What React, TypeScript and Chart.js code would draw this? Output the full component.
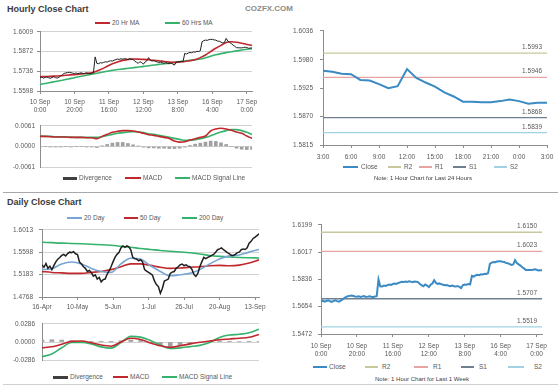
import React, { useEffect, useRef } from 'react';
import { Chart, registerables } from 'chart.js';

Chart.register(...registerables);

const FONT = "'Liberation Sans', Arial, Helvetica, sans-serif";
const TXT = '#595959';
const AXIS = '#8c8c8c';
const GRID = '#d2d2d2';
const RED = '#c0282d';
const GREEN = '#35b36c';
const MA_BLUE = '#79a5d3';
const CLOSE_BLUE = '#3a8ac4';
const BAR_GRAY = '#a0a0a0';
const DARK = '#1f1f1f';

// ---------- Hourly (last week, 1 hour bars) ----------
const hourTickLabels = [
  ['10 Sep', '0:00'], ['10 Sep', '20:00'], ['11 Sep', '16:00'], ['12 Sep', '12:00'],
  ['13 Sep', '8:00'], ['16 Sep', '4:00'], ['17 Sep', '0:00'],
];
const hourTickStep = 20;
const hourlyClose = [
  1.5690, 1.5694, 1.5688, 1.5692, 1.5696, 1.5690, 1.5686, 1.5693, 1.5697, 1.5691,
  1.5688, 1.5694, 1.5702, 1.5712, 1.5720, 1.5724, 1.5726, 1.5728, 1.5725, 1.5722,
  1.5720, 1.5723, 1.5719, 1.5722, 1.5725, 1.5719, 1.5721, 1.5724, 1.5720, 1.5717,
  1.5722, 1.5724, 1.5835, 1.5790, 1.5788, 1.5795, 1.5792, 1.5798, 1.5801, 1.5799,
  1.5805, 1.5808, 1.5806, 1.5812, 1.5816, 1.5820, 1.5818, 1.5822, 1.5819, 1.5823,
  1.5821, 1.5817, 1.5822, 1.5820, 1.5818, 1.5805, 1.5798, 1.5790, 1.5802, 1.5795,
  1.5785, 1.5800, 1.5808, 1.5830, 1.5812, 1.5806, 1.5809, 1.5803, 1.5800, 1.5797,
  1.5799, 1.5794, 1.5791, 1.5795, 1.5790, 1.5788, 1.5792, 1.5786, 1.5778, 1.5798,
  1.5802, 1.5800, 1.5805, 1.5803, 1.5860, 1.5855, 1.5862, 1.5866, 1.5864, 1.5870,
  1.5868, 1.5874, 1.5872, 1.5878, 1.5940, 1.5948, 1.5952, 1.5950, 1.5955, 1.5957,
  1.5957, 1.5953, 1.5952, 1.5945, 1.5944, 1.5938, 1.5932, 1.5935, 1.5964, 1.5945,
  1.5936, 1.5928, 1.5917, 1.5909, 1.5899, 1.5899, 1.5898, 1.5898, 1.5900, 1.5903,
  1.5900, 1.5895, 1.5897, 1.5897,
];
const hourMaStep = 3;
const ma20Hr = [
  1.5698, 1.5699, 1.5700, 1.5702, 1.5704, 1.5707, 1.5710, 1.5713, 1.5717, 1.5720,
  1.5725, 1.5737, 1.5752, 1.5770, 1.5787, 1.5800, 1.5811, 1.5817, 1.5821, 1.5820,
  1.5818, 1.5815, 1.5812, 1.5808, 1.5803, 1.5799, 1.5797, 1.5800, 1.5803, 1.5808,
  1.5816, 1.5830, 1.5848, 1.5872, 1.5895, 1.5915, 1.5935, 1.5940, 1.5937, 1.5930,
  1.5922, 1.5915,
];
const ma60Hr = [
  1.5643, 1.5650, 1.5657, 1.5664, 1.5671, 1.5678, 1.5686, 1.5693, 1.5700, 1.5707,
  1.5714, 1.5721, 1.5728, 1.5735, 1.5742, 1.5747, 1.5751, 1.5756, 1.5760, 1.5765,
  1.5769, 1.5774, 1.5779, 1.5783, 1.5788, 1.5792, 1.5797, 1.5802, 1.5806, 1.5811,
  1.5816, 1.5820, 1.5829, 1.5840, 1.5850, 1.5858, 1.5865, 1.5871, 1.5877, 1.5883,
  1.5888, 1.5893,
];
const macdHourly = [
  0.0030, 0.0030, 0.0029, 0.0028, 0.0028, 0.0028, 0.0027, 0.0027, 0.0027, 0.0026,
  0.0026, 0.0023, 0.0030, 0.0036, 0.0042, 0.0045, 0.0047, 0.0047, 0.0046, 0.0043,
  0.0039, 0.0035, 0.0033, 0.0030, 0.0027, 0.0024, 0.0016, 0.0013, 0.0014, 0.0019,
  0.0023, 0.0027, 0.0031, 0.0046, 0.0052, 0.0054, 0.0052, 0.0048, 0.0043, 0.0039,
  0.0031, 0.0024,
];
const signalHourly = [
  0.0031, 0.0030, 0.0030, 0.0029, 0.0029, 0.0028, 0.0028, 0.0027, 0.0027, 0.0027,
  0.0027, 0.0027, 0.0029, 0.0033, 0.0036, 0.0039, 0.0041, 0.0043, 0.0044, 0.0043,
  0.0041, 0.0038, 0.0036, 0.0033, 0.0030, 0.0027, 0.0024, 0.0021, 0.0018, 0.0018,
  0.0020, 0.0023, 0.0027, 0.0032, 0.0038, 0.0043, 0.0047, 0.0050, 0.0050, 0.0047,
  0.0042, 0.0036,
];
const divergenceHourly = [
  -0.0001, 0.0000, -0.0001, -0.0001, -0.0001, 0.0000, -0.0001, 0.0000, 0.0000, -0.0001,
  -0.0001, -0.0003, 0.0002, 0.0006, 0.0010, 0.0012, 0.0012, 0.0009, 0.0005, 0.0001,
  -0.0002, -0.0004, -0.0004, -0.0005, -0.0005, -0.0006, -0.0006, -0.0005, -0.0002, 0.0003,
  0.0007, 0.0010, 0.0013, 0.0016, 0.0015, 0.0011, 0.0006, 0.0000, -0.0005, -0.0008,
  -0.0009, -0.0009,
];
const hourlyYTicks = [1.5598, 1.5736, 1.5872, 1.6009];
const macdHourlyTicks = [-0.0061, 0, 0.0061];
const weekYTicks = [1.5472, 1.5654, 1.5836, 1.6017, 1.6199];
const weekLevels = [1.6150, 1.6023, 1.5707, 1.5519];

// ---------- Last 24 hours ----------
const dayHourLabels = ['3:00', '6:00', '9:00', '12:00', '15:00', '18:00', '21:00', '0:00', '3:00'];
const dayHourStep = 3;
const close24h = [
  1.5959, 1.5957, 1.5953, 1.5952, 1.5941, 1.5940, 1.5933, 1.5925, 1.5929, 1.5962,
  1.5945, 1.5936, 1.5928, 1.5917, 1.5909, 1.5899, 1.5899, 1.5898, 1.5898, 1.5900,
  1.5903, 1.5900, 1.5895, 1.5897, 1.5897,
];
const day24YTicks = [1.5815, 1.5870, 1.5925, 1.5980, 1.6036];
const day24Levels = [1.5993, 1.5946, 1.5868, 1.5839];
const levelNames = ['R2', 'R1', 'S1', 'S2'];
const levelColors = ['#c8c89c', '#e8a3a3', '#6f8093', '#9fd2e4'];

// ---------- Daily ----------
const dailyTickLabels = ['16-Apr', '10-May', '5-Jun', '1-Jul', '26-Jul', '20-Aug', '13-Sep'];
const dailyTickStep = 18;
const dailyClose = [
  1.5364, 1.5320, 1.5390, 1.5300, 1.5340, 1.5276,
  1.5350, 1.5420, 1.5470, 1.5500, 1.5540,
  1.5560, 1.5530, 1.5574, 1.5600, 1.5592, 1.5610, 1.5570, 1.5557,
  1.5417, 1.5380, 1.5329, 1.5300, 1.5241, 1.5260, 1.5224,
  1.5154, 1.5180, 1.5101, 1.5130, 1.5048, 1.5090, 1.5101,
  1.5189, 1.5250, 1.5329, 1.5420, 1.5504, 1.5560, 1.5592,
  1.5680, 1.5715, 1.5690, 1.5715, 1.5700, 1.5645,
  1.5504, 1.5480, 1.5469, 1.5440, 1.5460, 1.5417,
  1.5276, 1.5250, 1.5224, 1.5200, 1.5171, 1.5066, 1.5000,
  1.4961, 1.4838, 1.4926, 1.5066, 1.5080,
  1.5101, 1.5206, 1.5230, 1.5241, 1.5300, 1.5329,
  1.5364, 1.5380, 1.5350, 1.5364, 1.5340, 1.5329, 1.5280,
  1.5189, 1.5150, 1.5206, 1.5329, 1.5420,
  1.5504, 1.5480, 1.5504, 1.5520, 1.5540, 1.5557, 1.5600,
  1.5645, 1.5660, 1.5680, 1.5645, 1.5620,
  1.5592, 1.5570, 1.5540, 1.5539, 1.5560,
  1.5592, 1.5600, 1.5645, 1.5660, 1.5650, 1.5680,
  1.5767, 1.5800, 1.5855, 1.5880, 1.5908, 1.5943,
];
const dayMaStep = 5;
const ma20Day = [
  1.5276, 1.5294, 1.5382, 1.5417, 1.5382, 1.5299, 1.5241, 1.5224, 1.5382, 1.5487,
  1.5469, 1.5347, 1.5241, 1.5162, 1.5180, 1.5206, 1.5276, 1.5382, 1.5475, 1.5531,
  1.5548, 1.5601, 1.5650,
];
const ma50Day = [
  1.5241, 1.5224, 1.5215, 1.5206, 1.5206, 1.5224, 1.5241, 1.5276, 1.5329, 1.5382,
  1.5382, 1.5355, 1.5320, 1.5299, 1.5306, 1.5320, 1.5329, 1.5347, 1.5355, 1.5347,
  1.5359, 1.5399, 1.5457,
];
const ma200Day = [
  1.5785, 1.5776, 1.5767, 1.5762, 1.5755, 1.5746, 1.5738, 1.5727, 1.5710, 1.5692,
  1.5667, 1.5650, 1.5632, 1.5618, 1.5604, 1.5588, 1.5566, 1.5539, 1.5522, 1.5510,
  1.5501, 1.5496, 1.5492,
];
const macdDaily = [
  -0.0090, -0.0075, -0.0035, 0.0010, 0.0015, -0.0012, -0.0048, -0.0066, 0.0000, 0.0060,
  0.0040, -0.0015, -0.0060, -0.0085, -0.0060, -0.0030, -0.0005, 0.0015, 0.0035, 0.0048,
  0.0060, 0.0075, 0.0120,
];
const signalDaily = [
  -0.0231, -0.0190, -0.0090, -0.0008, -0.0008, -0.0030, -0.0077, -0.0097, -0.0010, 0.0089,
  0.0077, 0.0024, -0.0049, -0.0101, -0.0093, -0.0073, -0.0053, -0.0008, 0.0073, 0.0110,
  0.0122, 0.0146, 0.0203,
];
const divergenceDaily = [
  0.0030, 0.0035, 0.0030, 0.0020, 0.0012, 0.0005, 0.0005, 0.0003, 0.0020, 0.0030,
  0.0025, -0.0010, -0.0040, -0.0070, -0.0060, -0.0030, -0.0010, 0.0005, 0.0015, 0.0012,
  0.0008, 0.0005, 0.0005,
];
const dailyYTicks = [1.4768, 1.5183, 1.5598, 1.6013];
const macdDailyTicks = [-0.0286, 0, 0.0286];

// ---------- helpers ----------
const tickFont = { family: FONT, size: 6.5 };

function yAxis(ticks: number[], width: number, tickLen: number, pad: number, grid: boolean) {
  return {
    type: 'linear',
    position: 'left',
    min: ticks[0],
    max: ticks[ticks.length - 1],
    afterBuildTicks: (s: any) => { s.ticks = ticks.map((v) => ({ value: v })); },
    afterFit: (s: any) => { s.width = width; },
    ticks: { color: TXT, font: tickFont, padding: pad, callback: (v: any) => Number(v).toFixed(4) },
    grid: {
      display: true, drawOnChartArea: grid, color: GRID, lineWidth: 1,
      drawTicks: tickLen > 0, tickLength: tickLen, tickColor: AXIS,
    },
    border: { display: true, color: AXIS, width: 1 },
  };
}

function xAxis(max: number, step: number, labels: any[], height: number, pad: number) {
  return {
    type: 'linear',
    position: 'bottom',
    min: 0,
    max,
    offset: false,
    afterBuildTicks: (s: any) => { s.ticks = labels.map((_: any, k: number) => ({ value: k * step })); },
    afterFit: (s: any) => { s.height = height; },
    ticks: {
      color: TXT, font: { ...tickFont, lineHeight: 1.25 }, padding: pad, maxRotation: 0, autoSkip: false,
      callback: (_v: any, idx: number) => labels[idx],
    },
    grid: { display: true, offset: false, drawOnChartArea: false, drawTicks: true, tickLength: 3, tickColor: AXIS },
    border: { display: true, color: AXIS, width: 1 },
  };
}

// x axis kept in the layout (so it is placed with the chart area) but drawn with nothing
function xBare(max: number) {
  return {
    type: 'linear',
    position: 'bottom',
    min: 0,
    max,
    offset: false,
    display: true,
    afterFit: (s: any) => { s.height = 0; },
    ticks: { display: false },
    grid: { display: false, offset: false, drawTicks: false },
    border: { display: false },
  };
}

function lineDs(values: number[], step: number, color: string, width: number, smooth = false) {
  return {
    type: 'line',
    data: values.map((v, i) => ({ x: i * step, y: v })),
    borderColor: color,
    backgroundColor: color,
    borderWidth: width,
    pointRadius: 0,
    fill: false,
    tension: 0,
    cubicInterpolationMode: smooth ? 'monotone' : 'default',
  };
}

function levelDs(value: number, max: number, color: string) {
  return {
    type: 'line',
    data: [{ x: 0, y: value }, { x: max, y: value }],
    borderColor: color,
    borderWidth: 1.3,
    pointRadius: 0,
    fill: false,
    levelValue: value,
  };
}

function barDs(values: number[], step: number, color: string, thickness: number) {
  return {
    type: 'bar',
    data: values.map((v, i) => ({ x: i * step, y: v })),
    backgroundColor: color,
    borderWidth: 0,
    barThickness: thickness,
  };
}

const levelLabelPlugin = {
  id: 'levelLabels',
  afterDatasetsDraw(chart: any) {
    const ctx = chart.ctx;
    const ys = chart.scales.y;
    const area = chart.chartArea;
    ctx.save();
    ctx.font = `6.5px ${FONT}`;
    ctx.fillStyle = TXT;
    ctx.textAlign = 'right';
    ctx.textBaseline = 'bottom';
    chart.data.datasets.forEach((ds: any) => {
      if (ds.levelValue != null) {
        const py = ys.getPixelForValue(ds.levelValue);
        ctx.fillText(ds.levelValue.toFixed(4), area.right - 5, py - 2.5);
      }
    });
    ctx.restore();
  },
};

function makeConfig(datasets: any[], x: any, y: any, padding: any, plugins: any[] = []) {
  return {
    type: 'line',
    data: { datasets },
    options: {
      responsive: false,
      animation: false,
      devicePixelRatio: 1,
      events: [],
      layout: { padding },
      plugins: { legend: { display: false }, tooltip: { enabled: false }, title: { display: false } },
      scales: { x, y },
    },
    plugins,
  };
}

function ChartBox({ x, y, w, h, build }: { x: number; y: number; w: number; h: number; build: () => any }) {
  const ref = useRef<HTMLCanvasElement | null>(null);
  useEffect(() => {
    if (!ref.current) return;
    const chart = new Chart(ref.current, build());
    return () => chart.destroy();
  }, []);
  return (
    <canvas
      ref={ref}
      width={w}
      height={h}
      style={{ position: 'absolute', left: x, top: y, width: w, height: h }}
    />
  );
}

type LegendItem = { x: number; w: number; tx: number; color: string; label: string; t?: number };

function LegendRow({ y, items }: { y: number; items: LegendItem[] }) {
  return (
    <>
      {items.map((it, k) => (
        <React.Fragment key={k}>
          <div
            style={{
              position: 'absolute', left: it.x, top: y - (it.t || 1.5) / 2, width: it.w,
              height: it.t || 1.5, background: it.color,
            }}
          />
          <div
            style={{
              position: 'absolute', left: it.tx, top: y - 4, height: 8, lineHeight: '8px',
              fontSize: 6.5, fontFamily: FONT, color: TXT, whiteSpace: 'nowrap',
            }}
          >
            {it.label}
          </div>
        </React.Fragment>
      ))}
    </>
  );
}

const hourMax = hourlyClose.length - 1;
const dayMax = dailyClose.length - 1;
const day24Max = close24h.length - 1;

const buildHourly = () =>
  makeConfig(
    [
      lineDs(hourlyClose, 1, DARK, 1),
      lineDs(ma20Hr, hourMaStep, RED, 1.6, true),
      lineDs(ma60Hr, hourMaStep, GREEN, 1.6, true),
    ],
    xAxis(hourMax, hourTickStep, hourTickLabels, 24, 4),
    yAxis(hourlyYTicks, 40, 3, 4, true),
    { left: 0, top: 6, right: 18, bottom: 0 },
  );

const buildHourlyMacd = () =>
  makeConfig(
    [
      lineDs(macdHourly, hourMaStep, RED, 1.6, true),
      lineDs(signalHourly, hourMaStep, GREEN, 1.6, true),
      barDs(divergenceHourly, hourMaStep, BAR_GRAY, 3),
    ],
    xBare(hourMax),
    yAxis(macdHourlyTicks, 40, 0, 5, true),
    { left: 0, top: 6, right: 18, bottom: 5 },
  );

const buildDay24 = () =>
  makeConfig(
    [
      lineDs(close24h, 1, CLOSE_BLUE, 2),
      ...day24Levels.map((v, k) => levelDs(v, day24Max, levelColors[k])),
    ],
    xAxis(day24Max, dayHourStep, dayHourLabels, 16, 5),
    yAxis(day24YTicks, 43, 3, 7, false),
    { left: 0, top: 6, right: 12, bottom: 0 },
    [levelLabelPlugin],
  );

const buildDaily = () =>
  makeConfig(
    [
      lineDs(dailyClose, 1, DARK, 1.5),
      lineDs(ma20Day, dayMaStep, MA_BLUE, 1.6, true),
      lineDs(ma50Day, dayMaStep, RED, 1.6, true),
      lineDs(ma200Day, dayMaStep, GREEN, 1.6, true),
    ],
    xAxis(dayMax, dailyTickStep, dailyTickLabels, 14, 3),
    yAxis(dailyYTicks, 42, 3, 6, true),
    { left: 0, top: 6, right: 16, bottom: 0 },
  );

const buildDailyMacd = () =>
  makeConfig(
    [
      lineDs(macdDaily, dayMaStep, RED, 1.6, true),
      lineDs(signalDaily, dayMaStep, GREEN, 1.6, true),
      barDs(divergenceDaily, dayMaStep, BAR_GRAY, 4),
    ],
    xBare(dayMax),
    yAxis(macdDailyTicks, 42, 0, 7, true),
    { left: 0, top: 6, right: 16, bottom: 5 },
  );

const buildWeek = () =>
  makeConfig(
    [
      lineDs(hourlyClose, 1, CLOSE_BLUE, 2),
      ...weekLevels.map((v, k) => levelDs(v, hourMax, levelColors[k])),
    ],
    xAxis(hourMax, hourTickStep, hourTickLabels, 24, 5),
    yAxis(weekYTicks, 41, 3, 6, false),
    { left: 0, top: 6, right: 17, bottom: 0 },
    [levelLabelPlugin],
  );

const titleStyle: React.CSSProperties = {
  position: 'absolute', fontFamily: FONT, fontWeight: 'bold', fontSize: 9, color: '#3a3a3a',
  lineHeight: '10px', whiteSpace: 'nowrap',
};
const noteStyle: React.CSSProperties = {
  position: 'absolute', fontFamily: FONT, fontSize: 6, color: '#404040', lineHeight: '8px',
  whiteSpace: 'nowrap', transform: 'translateX(-50%)',
};

export default function App() {
  return (
    <div
      style={{
        position: 'absolute', left: 0, top: 0, width: 560, height: 386, background: '#ffffff',
        overflow: 'hidden',
      }}
    >
      <div style={{ ...titleStyle, left: 7, top: 4 }}>Hourly Close Chart</div>
      <div style={{ ...titleStyle, left: 245, top: 4, fontSize: 8, color: '#8a8a8a' }}>COZFX.COM</div>
      <div style={{ ...titleStyle, left: 7, top: 197 }}>Daily Close Chart</div>
      <div style={{ position: 'absolute', left: 3, top: 192, width: 555, height: 1, background: '#a8a8a8' }} />
      <div style={{ position: 'absolute', left: 3, top: 384, width: 555, height: 1, background: '#d0d0d0' }} />

      <LegendRow
        y={23}
        items={[
          { x: 95, w: 15, tx: 112, color: RED, label: '20 Hr MA' },
          { x: 165, w: 15, tx: 182, color: GREEN, label: '60 Hrs MA' },
        ]}
      />
      <ChartBox x={0} y={24} w={270} h={91} build={buildHourly} />

      <ChartBox x={0} y={117} w={270} h={59} build={buildHourlyMacd} />
      <LegendRow
        y={178}
        items={[
          { x: 63, w: 14, tx: 79, color: '#404040', label: 'Divergence', t: 3 },
          { x: 125, w: 16, tx: 143, color: RED, label: 'MACD' },
          { x: 175, w: 15, tx: 192, color: GREEN, label: 'MACD Signal Line' },
        ]}
      />

      <ChartBox x={280} y={20} w={279} h={141} build={buildDay24} />
      <LegendRow
        y={167}
        items={[
          { x: 343, w: 15, tx: 361, color: CLOSE_BLUE, label: 'Close' },
          { x: 388, w: 13, tx: 404, color: levelColors[0], label: levelNames[0] },
          { x: 419, w: 13, tx: 435, color: levelColors[1], label: levelNames[1] },
          { x: 453, w: 13, tx: 469, color: levelColors[2], label: levelNames[2] },
          { x: 494, w: 13, tx: 510, color: levelColors[3], label: levelNames[3] },
        ]}
      />
      <div style={{ ...noteStyle, left: 423, top: 174 }}>Note: 1 Hour Chart for Last 24 Hours</div>

      <LegendRow
        y={218}
        items={[
          { x: 67, w: 15, tx: 84, color: MA_BLUE, label: '20 Day' },
          { x: 124, w: 14, tx: 140, color: RED, label: '50 Day' },
          { x: 182, w: 15, tx: 199, color: GREEN, label: '200 Day' },
        ]}
      />
      <ChartBox x={0} y={220} w={275} h={91} build={buildDaily} />

      <ChartBox x={0} y={313} w={275} h={58} build={buildDailyMacd} />
      <LegendRow
        y={377}
        items={[
          { x: 53, w: 15, tx: 70, color: '#404040', label: 'Divergence', t: 3 },
          { x: 113, w: 15, tx: 130, color: RED, label: 'MACD' },
          { x: 162, w: 15, tx: 179, color: GREEN, label: 'MACD Signal Line' },
        ]}
      />

      <ChartBox x={280} y={215} w={279} h={143} build={buildWeek} />
      <LegendRow
        y={367}
        items={[
          { x: 313, w: 14, tx: 329, color: CLOSE_BLUE, label: 'Close' },
          { x: 365, w: 13, tx: 382, color: levelColors[0], label: levelNames[0] },
          { x: 414, w: 14, tx: 433, color: levelColors[1], label: levelNames[1] },
          { x: 461, w: 13, tx: 479, color: levelColors[2], label: levelNames[2] },
          { x: 508, w: 16, tx: 534, color: levelColors[3], label: levelNames[3] },
        ]}
      />
      <div style={{ ...noteStyle, left: 422, top: 375 }}>Note: 1 Hour Chart for Last 1 Week</div>
    </div>
  );
}
